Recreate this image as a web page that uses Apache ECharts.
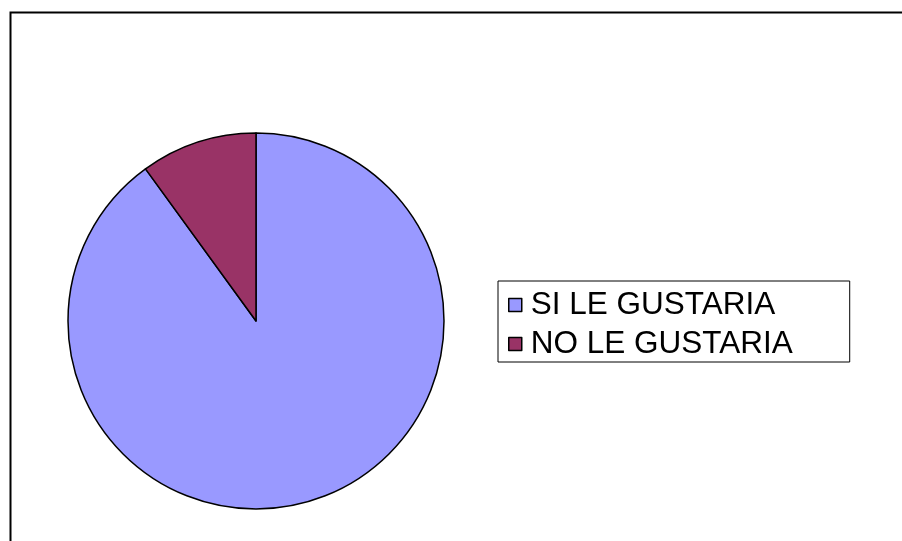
<!DOCTYPE html>
<html>
<head>
<meta charset="utf-8">
<script src="https://cdn.jsdelivr.net/npm/echarts@6/dist/echarts.min.js"></script>
<style>
  html, body { margin: 0; padding: 0; background: #fff; }
  #chart { width: 902px; height: 541px; }
</style>
</head>
<body>
<div id="chart"></div>
<script>
const categories = ['SI LE GUSTARIA', 'NO LE GUSTARIA']
const values = [90, 10]
const colors = ['#9999FF', '#993366']

const chart = echarts.init(document.getElementById('chart'))
const option = {
  backgroundColor: '#fff',
  animation: false,
  graphic: [{
    type: 'rect',
    shape: { x: 10.5, y: 12.5, width: 900, height: 540 },
    style: { fill: 'none', stroke: '#000', lineWidth: 2 },
    silent: true
  }],
  legend: {
    orient: 'vertical',
    left: 498,
    top: 281,
    padding: [6, 57, 0, 10],
    itemGap: 3,
    itemWidth: 13,
    itemHeight: 13,
    icon: 'rect',
    borderColor: '#000',
    borderWidth: 1,
    data: categories,
    itemStyle: { borderColor: '#000', borderWidth: 1.5 },
    textStyle: {
      fontFamily: 'Liberation Sans, Arial, sans-serif',
      fontSize: 31.5,
      lineHeight: 36,
      height: 36,
      color: '#000',
      padding: [0, 0, 0, 4]
    }
  },
  series: [{
    type: 'pie',
    center: [256, 321],
    radius: [0, 188],
    startAngle: 90,
    clockwise: true,
    label: { show: false },
    labelLine: { show: false },
    itemStyle: { borderColor: '#000', borderWidth: 1.5 },
    emphasis: { disabled: true },
    data: categories.map((name, i) => ({
      name: name,
      value: values[i],
      itemStyle: { color: colors[i] }
    }))
  }]
}
chart.setOption(option)
</script>
</body>
</html>
